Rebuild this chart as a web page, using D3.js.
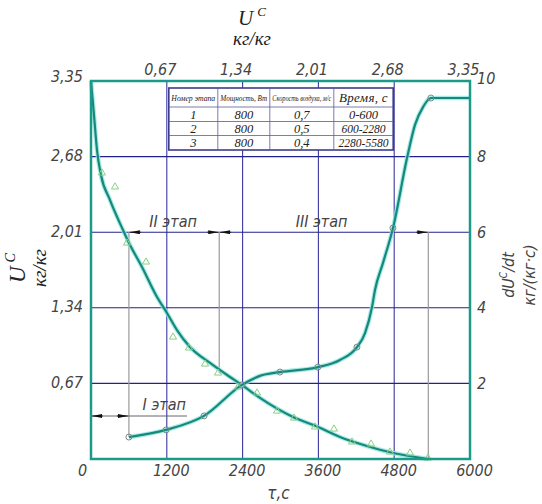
<!DOCTYPE html>
<html>
<head>
<meta charset="utf-8">
<script src="https://cdn.jsdelivr.net/npm/d3@7"></script>
<style>
  body { margin: 0; background: #fff; }
  .lbl { font-family: "Liberation Sans Narrow", "DejaVu Sans Condensed", sans-serif; font-style: italic; fill: #444; }
  .ser { font-family: "Liberation Serif", "DejaVu Serif", serif; font-style: italic; fill: #222; }
</style>
</head>
<body>
<div id="chart"></div>
<script>
// time axis, s
const timeTicks = [0, 1200, 2400, 3600, 4800, 6000];
// moisture content U^C, kg/kg (left and top)
const moistTicks = [0, 0.67, 1.34, 2.01, 2.68, 3.35];
const topTicks = [0.67, 1.34, 2.01, 2.68, 3.35];
// drying rate dU/dt (right)
const rateTicks = [2, 4, 6, 8, 10];

// U^C(t) drawn line
const curveT = [0, 47, 95, 158, 301, 507, 602, 807, 1045, 1203, 1361, 1567, 1884, 2200, 2390, 2675, 3198, 3594, 3942, 4369, 4781, 5335];
const curveU = [3.35, 3.049, 2.738, 2.517, 2.295, 2.029, 1.914, 1.702, 1.436, 1.294, 1.143, 0.993, 0.851, 0.727, 0.656, 0.541, 0.372, 0.284, 0.195, 0.115, 0.053, 0];
// measured points (triangles)
const triT = [174, 380, 570, 871, 1298, 1551, 1805, 2011, 2327, 2628, 2945, 3214, 3546, 3847, 4132, 4433, 4733, 5050, 5335];
const triU = [2.535, 2.411, 1.914, 1.746, 1.081, 0.984, 0.842, 0.762, 0.638, 0.585, 0.425, 0.363, 0.284, 0.266, 0.151, 0.133, 0.062, 0.053, 0.009];

// dU/dt(t) drawn line
const rateT = [602, 1187, 1789, 2390, 2675, 2992, 3594, 3942, 4211, 4338, 4449, 4496, 4623, 4781, 5003, 5129, 5256, 5383, 6000];
const rateV = [0.58, 0.77, 1.14, 1.96, 2.20, 2.30, 2.43, 2.62, 2.96, 3.33, 4.02, 4.47, 5.19, 6.11, 7.96, 8.84, 9.31, 9.55, 9.55];
// computed points (circles)
const circT = [600, 1190, 1790, 2390, 2990, 3590, 4210, 4780, 5380];
const circV = [0.58, 0.77, 1.14, 1.96, 2.30, 2.43, 2.96, 6.11, 9.55];

// stage boundaries, s
const stageEdges = [0, 600, 2030, 5340];
const stageNames = ["I этап", "II этап", "III этап"];

const tableHead = ["Номер этапа", "Мощность, Вт", "Скорость воздуха, м/с", "Время, с"];
const tableRows = [
  ["1", "800", "0,7", "0-600"],
  ["2", "800", "0,5", "600-2280"],
  ["3", "800", "0,4", "2280-5580"]
];

const W = 542, H = 504;
const margin = { top: 81, right: 72, bottom: 45, left: 91 };
const x = d3.scaleLinear().domain([0, 6000]).range([margin.left, W - margin.right]);
const yL = d3.scaleLinear().domain([0, 3.35]).range([H - margin.bottom, margin.top]);
const yR = d3.scaleLinear().domain([0, 10]).range([H - margin.bottom, margin.top]);
const xTop = d3.scaleLinear().domain([0, 3.35]).range([margin.left, W - margin.right]);
const fmt = d => String(d).replace(".", ",");

const teal = "#16887c";
const navy = "#22228c";

const svg = d3.select("#chart").append("svg").attr("width", W).attr("height", H);

// grid
svg.append("g").selectAll("line").data(timeTicks.slice(1, -1)).join("line")
  .attr("x1", d => x(d)).attr("x2", d => x(d))
  .attr("y1", yL(3.35)).attr("y2", yL(0))
  .attr("stroke", "#3b38a0").attr("stroke-width", 1.1);
svg.append("g").selectAll("line").data(moistTicks.slice(1, -1)).join("line")
  .attr("x1", x(0)).attr("x2", x(6000))
  .attr("y1", d => yL(d)).attr("y2", d => yL(d))
  .attr("stroke", navy).attr("stroke-width", 1.1);

// stage extension lines
const ext = [
  { t: stageEdges[1], y0: yL(2.01), y1: yR(0.58) },
  { t: stageEdges[2], y0: yL(2.01), y1: yL(0.76) },
  { t: stageEdges[3], y0: yL(2.01), y1: yL(0) }
];
svg.append("g").selectAll("line").data(ext).join("line")
  .attr("x1", d => x(d.t)).attr("x2", d => x(d.t))
  .attr("y1", d => d.y0).attr("y2", d => d.y1)
  .attr("stroke", "#9a9a9a").attr("stroke-width", 1.2);

// dimension arrows
svg.append("defs").html(`
  <marker id="ah" viewBox="0 0 10 4" refX="10" refY="2" markerWidth="10" markerHeight="4" markerUnits="userSpaceOnUse" orient="auto">
    <path d="M0,0 L10,2 L0,4 Z" fill="#111"/>
  </marker>`);
const yStage1 = 416;
svg.append("line").attr("x1", x(0)).attr("x2", x(1520)).attr("y1", yStage1).attr("y2", yStage1)
  .attr("stroke", "#555").attr("stroke-width", 0.9);
// [from side, to edge, y]
const arrows = [
  [1, 0, yStage1], [-1, 600, yStage1],
  [1, 600, yL(2.01)], [-1, 2030, yL(2.01)],
  [1, 2030, yL(2.01)], [-1, 5340, yL(2.01)]
];
svg.append("g").selectAll("line").data(arrows).join("line")
  .attr("x1", d => x(d[1]) + d[0] * 12).attr("x2", d => x(d[1]) + d[0] * 1)
  .attr("y1", d => d[2]).attr("y2", d => d[2])
  .attr("stroke", "#111").attr("stroke-width", 0.8)
  .attr("marker-end", "url(#ah)");

// stage labels
svg.append("text").attr("class", "lbl").attr("x", x(1160)).attr("y", 410).attr("font-size", 16).attr("text-anchor", "middle").text(stageNames[0]);
svg.append("text").attr("class", "lbl").attr("x", x(1300)).attr("y", 227).attr("font-size", 16).attr("text-anchor", "middle").text(stageNames[1]);
svg.append("text").attr("class", "lbl").attr("x", x(3650)).attr("y", 227).attr("font-size", 16).attr("text-anchor", "middle").text(stageNames[2]);

// curves
const lineU = d3.line().x(i => x(curveT[i])).y(i => yL(curveU[i])).curve(d3.curveMonotoneX);
const lineV = d3.line().x(i => x(rateT[i])).y(i => yR(rateV[i])).curve(d3.curveMonotoneX);
[[lineU, d3.range(curveT.length)], [lineV, d3.range(rateT.length)]].forEach(([ln, idx]) => {
  svg.append("path").attr("d", ln(idx)).attr("fill", "none").attr("stroke", "#92e6de").attr("stroke-width", 4.5).attr("stroke-opacity", 0.8);
  svg.append("path").attr("d", ln(idx)).attr("fill", "none").attr("stroke", teal).attr("stroke-width", 2.2);
});

// markers
const tri = d3.symbol().type(d3.symbolTriangle).size(22);
svg.append("g").selectAll("path").data(d3.range(triT.length)).join("path")
  .attr("d", tri).attr("transform", i => `translate(${x(triT[i])},${yL(triU[i])})`)
  .attr("fill", "none").attr("stroke", "#8ccf86").attr("stroke-width", 1);
svg.append("g").selectAll("circle").data(d3.range(circT.length)).join("circle")
  .attr("cx", i => x(circT[i])).attr("cy", i => yR(circV[i])).attr("r", 3)
  .attr("fill", "none").attr("stroke", "#7a8a88").attr("stroke-width", 1);

// frame
svg.append("rect").attr("x", x(0)).attr("y", yL(3.35)).attr("width", x(6000) - x(0)).attr("height", yL(0) - yL(3.35))
  .attr("fill", "none").attr("stroke", "#1b9a8a").attr("stroke-width", 2.5);

// table
const tx0 = x(1200) + 2, tx1 = x(4800) - 1;
const colW = [49, 52, 64];
const colX = [tx0, tx0 + colW[0], tx0 + colW[0] + colW[1], tx0 + colW[0] + colW[1] + colW[2], tx1];
const rowY = [88, 107, 121.5, 135.5, 150];
const tbl = svg.append("g");
tbl.append("rect").attr("x", tx0).attr("y", rowY[0]).attr("width", tx1 - tx0).attr("height", rowY[4] - rowY[0])
  .attr("fill", "#fff").attr("stroke", "#3c3c8c").attr("stroke-width", 1.6);
tbl.selectAll("line.c").data(colX.slice(1, -1)).join("line").attr("class", "c")
  .attr("x1", d => d).attr("x2", d => d).attr("y1", rowY[0]).attr("y2", rowY[4])
  .attr("stroke", "#5a5a9a").attr("stroke-width", 0.8);
tbl.selectAll("line.r").data(rowY.slice(1, -1)).join("line").attr("class", "r")
  .attr("x1", tx0).attr("x2", tx1).attr("y1", d => d).attr("y2", d => d)
  .attr("stroke", "#5a5a9a").attr("stroke-width", 0.8);
tableHead.forEach((h, j) => {
  const cx = (colX[j] + colX[j + 1]) / 2;
  const avail = colX[j + 1] - colX[j] - 5;
  const t = tbl.append("text").attr("class", "ser").attr("text-anchor", "middle").text(h);
  if (j < 3) t.attr("font-size", 9).attr("font-style", "normal");
  else t.attr("font-size", 13).attr("letter-spacing", 0.3);
  // squeeze narrow header cells horizontally
  const k = Math.min(1, avail / t.node().getComputedTextLength());
  t.attr("transform", `translate(${cx},${j === 3 ? 101.5 : 101}) scale(${k},1)`);
});
tableRows.forEach((row, i) => {
  row.forEach((v, j) => {
    tbl.append("text").attr("class", "ser").attr("x", (colX[j] + colX[j + 1]) / 2).attr("y", rowY[i + 2] - 3)
      .attr("text-anchor", "middle").attr("font-size", j === 3 && i > 0 ? 11.5 : 12.5).text(v);
  });
});

// axes
const styleAxis = g => {
  g.select(".domain").remove();
  g.selectAll(".tick line").remove();
  g.selectAll("text").attr("class", "lbl").attr("font-size", 16).attr("fill", null);
};
svg.append("g").attr("transform", `translate(0,${yL(0)})`)
  .call(d3.axisBottom(x).tickValues(timeTicks).tickSize(0).tickPadding(6).tickFormat(d3.format("d")))
  .call(styleAxis)
  .call(g => g.selectAll("text").attr("dx", (d, i) => i === 0 ? -9 : 4));
svg.append("g").attr("transform", `translate(${x(0)},0)`)
  .call(d3.axisLeft(yL).tickValues(moistTicks.slice(1)).tickSize(0).tickPadding(8).tickFormat(fmt))
  .call(styleAxis)
  .call(g => g.selectAll("text").attr("dy", d => d === 3.35 ? "0em" : "0.25em"));
svg.append("g").attr("transform", `translate(${x(6000)},0)`)
  .call(d3.axisRight(yR).tickValues(rateTicks).tickSize(0).tickPadding(7))
  .call(styleAxis)
  .call(g => g.selectAll("text").attr("dy", d => d === 10 ? "0.15em" : "0.32em"));
svg.append("g").attr("transform", `translate(0,${yL(3.35)})`)
  .call(d3.axisTop(xTop).tickValues(topTicks).tickSize(0).tickPadding(6).tickFormat(fmt))
  .call(styleAxis)
  .call(g => g.selectAll("text").attr("dx", -7));

// axis titles
const uTitle = (g, size) => {
  const t = g.append("text").attr("class", "ser").attr("font-size", size).attr("text-anchor", "middle");
  t.append("tspan").text("U");
  t.append("tspan").attr("font-size", size * 0.62).attr("dx", 4).attr("dy", -size * 0.45).text("C");
  return t;
};
const topTitle = svg.append("g").attr("transform", "translate(252,25)");
uTitle(topTitle, 21);
topTitle.append("text").attr("class", "ser").attr("y", 20).attr("font-size", 19).attr("text-anchor", "middle").text("кг/кг");

const leftTitle = svg.append("g").attr("transform", "translate(25,268) rotate(-90)");
uTitle(leftTitle, 23);
leftTitle.append("text").attr("class", "ser").attr("y", 21).attr("font-size", 19).attr("text-anchor", "middle").text("кг/кг");

const rightTitle = svg.append("g").attr("transform", "translate(514,275) rotate(-90)");
rightTitle.append("text").attr("class", "lbl").attr("font-size", 16).attr("text-anchor", "middle")
  .call(t => {
    t.append("tspan").text("dU");
    t.append("tspan").attr("font-size", 10).attr("dy", -7).text("C");
    t.append("tspan").attr("dy", 7).text("/dt");
  });
rightTitle.append("text").attr("class", "lbl").attr("y", 21).attr("font-size", 16).attr("text-anchor", "middle").text("кг/(кг·с)");

svg.append("text").attr("class", "lbl").attr("x", x(3000) - 2).attr("y", 499).attr("font-size", 17)
  .attr("text-anchor", "middle").text("τ,c");
</script>
</body>
</html>
